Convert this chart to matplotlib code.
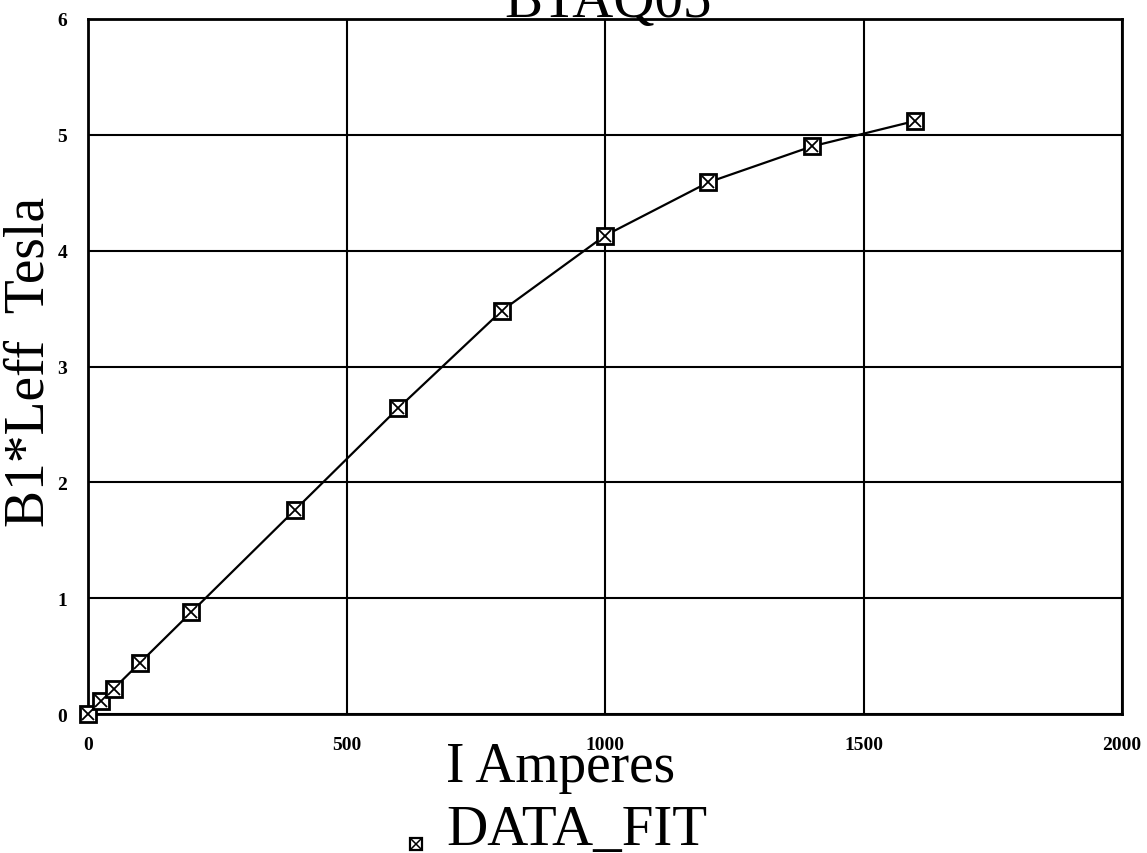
import matplotlib
matplotlib.use("Agg")
import matplotlib.pyplot as plt

# Magnet excitation data
current_a = [0, 25, 50, 100, 200, 400, 600, 800, 1000, 1200, 1400, 1600]
b1_leff = [0.0, 0.11, 0.22, 0.44, 0.88, 1.76, 2.64, 3.48, 4.13, 4.59, 4.90, 5.12]
x_ticks = [0, 500, 1000, 1500, 2000]
y_ticks = [0, 1, 2, 3, 4, 5, 6]

SERIF = ["Liberation Serif", "DejaVu Serif"]
W, H = 1147, 854

fig = plt.figure(figsize=(W / 100, H / 100), dpi=100)
left_px, right_px, top_px, bot_px = 88, 1122, 20, 715
ax = fig.add_axes([left_px / W, 1 - bot_px / H, (right_px - left_px) / W, (bot_px - top_px) / H])

ax.plot(current_a, b1_leff, color="black", linewidth=1.6, zorder=3, clip_on=False)
ax.plot(current_a, b1_leff, linestyle="none", marker="s", markersize=11,
        markerfacecolor="white", markeredgecolor="black", markeredgewidth=2,
        zorder=4, clip_on=False)
ax.plot(current_a, b1_leff, linestyle="none", marker="x", markersize=8,
        markeredgecolor="black", markeredgewidth=1.3, zorder=5, clip_on=False)

ax.set_xlim(0, 2000)
ax.set_ylim(0, 6)
ax.set_xticks(x_ticks)
ax.set_yticks(y_ticks)
ax.grid(True, color="black", linewidth=1.5)
ax.tick_params(length=0)
ax.tick_params(axis="x", pad=16)
ax.tick_params(axis="y", pad=15)
for lbl in ax.get_xticklabels() + ax.get_yticklabels():
    lbl.set_fontfamily(SERIF)
    lbl.set_fontsize(14)
    lbl.set_fontweight("bold")
for sp in ax.spines.values():
    sp.set_linewidth(2)
ax.set_axisbelow(True)

fig.text(446 / W, 1 - 782 / H, "I Amperes", family=SERIF, fontsize=40,
         ha="left", va="baseline")
fig.text(30 / W, 1 - 362 / H, "B1*Leff  Tesla", family=SERIF, fontsize=40,
         ha="center", va="center", rotation=90)
fig.text(608 / W, 1 - 17 / H, "BTAQ05", family=SERIF, fontsize=41,
         ha="center", va="baseline")

# legend entry
fig.text(446 / W, 1 - 845 / H, "DATA_FIT", family=SERIF, fontsize=41,
         ha="left", va="baseline")
fig.lines.append(plt.Line2D([416 / W], [1 - 845 / H], transform=fig.transFigure, marker="s",
                            markersize=9, markerfacecolor="white", markeredgecolor="black",
                            markeredgewidth=1.6, linestyle="none"))
fig.lines.append(plt.Line2D([416 / W], [1 - 845 / H], transform=fig.transFigure, marker="x",
                            markersize=7, markeredgecolor="black",
                            markeredgewidth=1.1, linestyle="none"))

fig.savefig("out.png", dpi=100)
